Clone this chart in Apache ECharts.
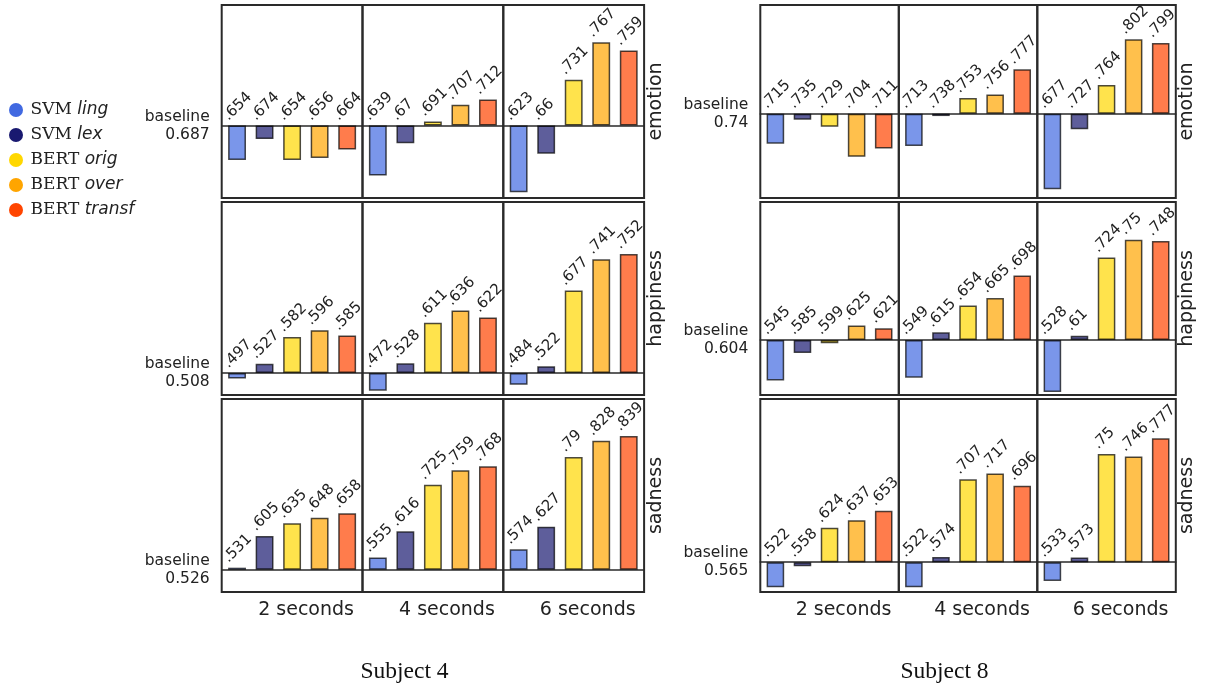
<!DOCTYPE html>
<html><head><meta charset="utf-8">
<script src="https://cdn.jsdelivr.net/npm/echarts@6/dist/echarts.min.js"></script>
<style>html,body{margin:0;padding:0;background:#fff}#c{width:1211px;height:688px}</style>
</head><body><div id="c"></div>
<script>
// ---------- data ----------
const modelNames = ['SVM ling', 'SVM lex', 'BERT orig', 'BERT over', 'BERT transf'];
const emotionNames = ['emotion', 'happiness', 'sadness'];
const windowLabels = ['2 seconds', '4 seconds', '6 seconds'];
const subjectLabels = ['Subject 4', 'Subject 8'];

const s4Baselines = [0.687, 0.508, 0.526];
const s4Emotion   = [[0.654, 0.674, 0.654, 0.656, 0.664], [0.639, 0.67, 0.691, 0.707, 0.712], [0.623, 0.66, 0.731, 0.767, 0.759]];
const s4Happiness = [[0.497, 0.527, 0.582, 0.596, 0.585], [0.472, 0.528, 0.611, 0.636, 0.622], [0.484, 0.522, 0.677, 0.741, 0.752]];
const s4Sadness   = [[0.531, 0.605, 0.635, 0.648, 0.658], [0.555, 0.616, 0.725, 0.759, 0.768], [0.574, 0.627, 0.79, 0.828, 0.839]];

const s8Baselines = [0.74, 0.604, 0.565];
const s8Emotion   = [[0.715, 0.735, 0.729, 0.704, 0.711], [0.713, 0.738, 0.753, 0.756, 0.777], [0.677, 0.727, 0.764, 0.802, 0.799]];
const s8Happiness = [[0.545, 0.585, 0.599, 0.625, 0.621], [0.549, 0.615, 0.654, 0.665, 0.698], [0.528, 0.61, 0.724, 0.75, 0.748]];
const s8Sadness   = [[0.522, 0.558, 0.624, 0.637, 0.653], [0.522, 0.574, 0.707, 0.717, 0.696], [0.533, 0.573, 0.75, 0.746, 0.777]];

// ---------- axis limits (difference from baseline) & styling ----------
const s4YLimits = [[-0.0695, 0.1157], [-0.0449, 0.3505], [-0.0519, 0.3995]];
const s8YLimits = [[-0.0703, 0.0906], [-0.0803, 0.2010], [-0.0510, 0.2793]];
const xLimits = [-0.5575, 4.5575];
const modelColors = ['#4169E1', '#191970', '#FFD700', '#FFA500', '#FF4500'];
const ink = '#222222';

const panels = [
  { left: 221.7, colW: 140.8, base: s4Baselines, rows: [s4Emotion, s4Happiness, s4Sadness], ylim: s4YLimits, subjX: 404.5 },
  { left: 760.3, colW: 138.5, base: s8Baselines, rows: [s8Emotion, s8Happiness, s8Sadness], ylim: s8YLimits, subjX: 944.5 }
];
const rowTop = [5, 202, 399];
const rowH = 193;

const fmtShort = v => String(v).replace(/^0\./, '.');

const grid = [], xAxis = [], yAxis = [], series = [], graphic = [];
let g = 0;
panels.forEach((p, pi) => {
  for (let r = 0; r < 3; r++) {
    const base = p.base[r];
    for (let c = 0; c < 3; c++) {
      const vals = p.rows[r][c];
      grid.push({
        left: p.left + c * p.colW, top: rowTop[r], width: p.colW, height: rowH,
        show: true, borderColor: '#2a2a2a', borderWidth: 2, backgroundColor: 'transparent',
        outerBoundsMode: 'none', containLabel: false
      });
      xAxis.push({
        gridIndex: g, type: 'value', min: xLimits[0], max: xLimits[1],
        axisLine: { show: true, onZero: true, lineStyle: { color: '#2a2a2a', width: 1.6 } },
        axisTick: { show: false }, axisLabel: { show: false }, splitLine: { show: false }
      });
      yAxis.push({
        gridIndex: g, type: 'value', min: p.ylim[r][0], max: p.ylim[r][1],
        axisLine: { show: false }, axisTick: { show: false }, splitLine: { show: false },
        axisLabel: {
          show: c === 0, customValues: [0], formatter: () => 'baseline\n' + base,
          fontFamily: 'DejaVu Sans', fontSize: 15.5, lineHeight: 18, color: ink, margin: 12, align: 'right',
          padding: [3, 0, 0, 0]
        }
      });
      modelNames.forEach((name, k) => {
        series.push({
          type: 'bar', name: name, xAxisIndex: g, yAxisIndex: g,
          barWidth: '65%', barGap: '-100%',
          data: [[k, vals[k] - base]],
          itemStyle: { color: modelColors[k], opacity: 0.7, borderColor: '#000', borderWidth: 1.5 },
          label: {
            show: true, position: [3, -2], rotate: 45, align: 'left', verticalAlign: 'bottom',
            fontFamily: 'DejaVu Sans', fontSize: 15, color: ink, opacity: 1,
            formatter: () => fmtShort(vals[k])
          },
          silent: true, emphasis: { disabled: true }
        });
      });
      g++;
    }
    graphic.push({
      type: 'text', x: p.left + 3 * p.colW + 11.5, y: rowTop[r] + rowH / 2, rotation: Math.PI / 2,
      style: { text: emotionNames[r], fontFamily: 'DejaVu Sans', fontSize: 19, fill: ink, align: 'center', verticalAlign: 'middle', textAlign: 'center', textVerticalAlign: 'middle' }
    });
  }
  windowLabels.forEach((w, c) => {
    graphic.push({
      type: 'text', x: p.left + (c + 0.5) * p.colW + 14, y: 610,
      style: { text: w, fontFamily: 'DejaVu Sans', fontSize: 19, fill: ink, align: 'center', verticalAlign: 'middle', textAlign: 'center', textVerticalAlign: 'middle' }
    });
  });
  graphic.push({
    type: 'text', x: p.subjX, y: 672,
    style: { text: subjectLabels[pi], fontFamily: 'Liberation Serif', fontSize: 23.5, fill: '#111', align: 'center', verticalAlign: 'middle', textAlign: 'center', textVerticalAlign: 'middle' }
  });
});

const chart = echarts.init(document.getElementById('c'), null, { renderer: 'canvas' });
chart.setOption({
  backgroundColor: '#fff',
  animation: false,
  textStyle: { fontFamily: 'DejaVu Sans' },
  legend: {
    orient: 'vertical', left: 9, top: 101.5, padding: 0,
    itemWidth: 19, itemHeight: 14, itemGap: 8, selectedMode: false, icon: 'circle',
    data: modelNames.map((n, i) => ({ name: n, itemStyle: { color: modelColors[i], opacity: 1, borderWidth: 0 } })),
    formatter: n => { const sp = n.indexOf(' '); return '{s|' + n.slice(0, sp) + ' }{i|' + n.slice(sp + 1) + '}'; },
    textStyle: {
      rich: {
        s: { fontFamily: 'DejaVu Serif', fontSize: 17, color: ink, lineHeight: 18 },
        i: { fontFamily: 'DejaVu Sans', fontStyle: 'italic', fontSize: 17, color: ink, lineHeight: 18 }
      }
    }
  },
  grid, xAxis, yAxis, series, graphic
});
</script>
</body></html>
